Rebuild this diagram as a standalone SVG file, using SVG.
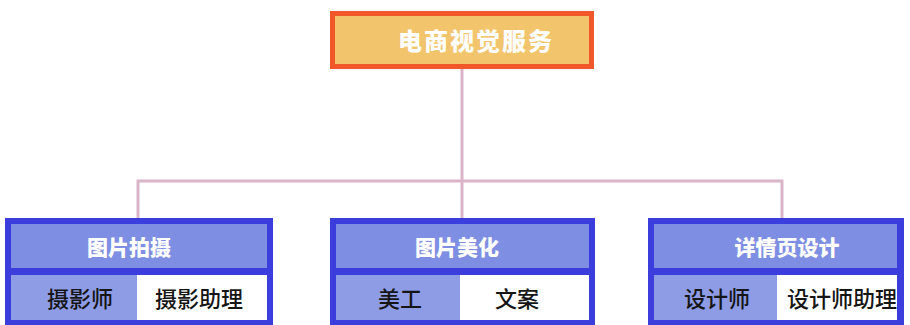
<svg xmlns="http://www.w3.org/2000/svg" width="910" height="325" viewBox="0 0 910 325">
<style>
.conn{stroke:#dbb4c9;stroke-width:3;fill:none}
.outer{fill:#3b3ddc}
.head{fill:#7e8ee2}
.cellL{fill:#8e9ce6}
.cellR{fill:#ffffff}
.ht{font-family:"Noto Sans CJK SC","Noto Sans",sans-serif;font-weight:900;font-size:21px;fill:#ffffff;text-anchor:middle;dominant-baseline:central}
.ct{font-family:"Noto Sans CJK SC","Noto Sans",sans-serif;font-weight:500;font-size:22px;fill:#151515;text-anchor:middle;dominant-baseline:central}
</style>
<rect width="910" height="325" fill="#ffffff"/>
<g id="connectors">
<path class="conn" d="M462 69 V181 M138 218 V181 H782 V218 M462 181 V218"/>
</g>
<g id="root">
<rect x="332.5" y="13.5" width="259" height="53" fill="#f2c46c" stroke="#f0582a" stroke-width="5"/>
<text class="ht" x="476" y="39" style="font-size:24px;letter-spacing:2px">电商视觉服务</text>
</g>
<g id="node1">
<rect class="outer" x="5" y="218" width="268" height="110"/>
<rect class="head" x="11" y="224" width="256" height="44"/>
<rect class="cellL" x="11" y="275" width="126" height="45"/>
<rect class="cellR" x="137" y="275" width="130" height="45"/>
<text class="ht" x="129" y="246">图片拍摄</text>
<text class="ct" x="80" y="297">摄影师</text>
<text class="ct" x="199" y="297">摄影助理</text>
</g>
<g id="node2">
<rect class="outer" x="330" y="218" width="265" height="110"/>
<rect class="head" x="336" y="224" width="253" height="44"/>
<rect class="cellL" x="336" y="275" width="124" height="45"/>
<rect class="cellR" x="460" y="275" width="129" height="45"/>
<text class="ht" x="457" y="246">图片美化</text>
<text class="ct" x="400" y="297">美工</text>
<text class="ct" x="517" y="297">文案</text>
</g>
<g id="node3">
<rect class="outer" x="648" y="218" width="256" height="110"/>
<rect class="head" x="654" y="224" width="243" height="44"/>
<rect class="cellL" x="654" y="275" width="123" height="45"/>
<rect class="cellR" x="777" y="275" width="120" height="45"/>
<text class="ht" x="787" y="246">详情页设计</text>
<text class="ct" x="717" y="297">设计师</text>
<text class="ct" x="842" y="297">设计师助理</text>
</g>
</svg>
